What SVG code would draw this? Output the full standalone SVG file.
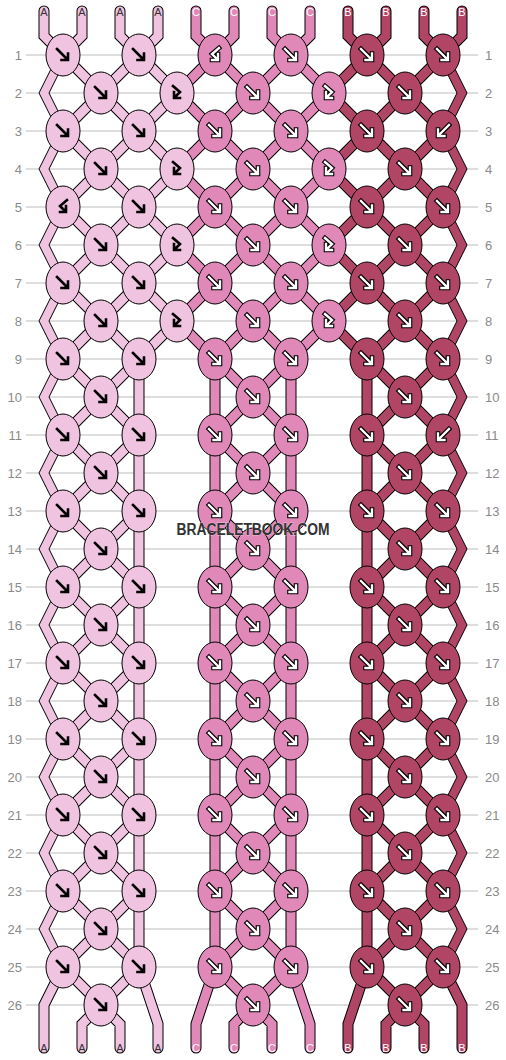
<svg xmlns="http://www.w3.org/2000/svg" xmlns:xlink="http://www.w3.org/1999/xlink" width="506" height="1060" viewBox="0 0 506 1060">
<style>
.gl{fill:none;stroke:#bdbdbd;stroke-width:1}
.o{fill:none;stroke:#000;stroke-width:11;stroke-linecap:round;stroke-linejoin:miter}
.sA,.sC,.sB{fill:none;stroke-width:9;stroke-linecap:round;stroke-linejoin:miter}
.sA{stroke:#f0c3e0}.sC{stroke:#e088b8}.sB{stroke:#b04566}
.A{fill:#f0c3e0;stroke:#000;stroke-width:1}
.C{fill:#e088b8;stroke:#000;stroke-width:1}
.B{fill:#b04566;stroke:#000;stroke-width:1}
.k{fill:none;stroke:#000;stroke-width:2.6;stroke-linecap:square;stroke-linejoin:miter}
.wo{fill:none;stroke:#000;stroke-width:4.6;stroke-linecap:square;stroke-linejoin:miter}
.w{fill:none;stroke:#fff;stroke-width:2.4;stroke-linecap:square;stroke-linejoin:miter}
.rl{font-family:"Liberation Sans",Arial,sans-serif;font-size:13px;fill:#8a8a8a}
.sl{font-family:"Liberation Sans",Arial,sans-serif;font-size:11px;text-anchor:middle}
.la{fill:#333}.lw{fill:#fff}
.wm{font-family:"Liberation Sans",Arial,sans-serif;font-weight:bold;font-size:16px;fill:#333;text-anchor:middle}
</style>
<defs>
<path id="f" d="M-6,-6L4,4M5,-1.5V5H-1.5"/>
<path id="b" d="M6,-6L-4,4M-5,-1.5V5H1.5"/>
<path id="fb" d="M-4,-7L3,-1L-2,4M-3,-1V5H3"/>
<path id="bf" d="M4,-7L-3,-1L2,4M3,-1V5H-3"/>
<g id="fK"><use href="#f" class="k"/></g>
<g id="fbK"><use href="#fb" class="k"/></g>
<g id="bfK"><use href="#bf" class="k"/></g>
<g id="fW"><use href="#f" class="wo"/><use href="#f" class="w"/></g>
<g id="bW"><use href="#b" class="wo"/><use href="#b" class="w"/></g>
<g id="fbW"><use href="#fb" class="wo"/><use href="#fb" class="w"/></g>
<g id="bfW"><use href="#bf" class="wo"/><use href="#bf" class="w"/></g>
<path id="pA" d="M44,11V36L63,55M82,11V36L63,55M120,11V36L139,55M158,11V36L139,55M63,55L139,131L63,207L139,283L63,359L139,435L63,511L139,587L63,663L139,739L63,815L139,891L63,967M139,55L63,131L139,207L63,283L139,359L63,435L139,511L63,587L139,663L63,739L139,815L63,891L139,967M139,55L177,93L139,131L177,169L139,207L177,245L139,283L177,321L139,359M139,359V967M63,967L44,1005V1048M63,967L101,1005L82,1024V1048M139,967L101,1005L120,1024V1048M139,967L158,1024V1048"/>
<path id="pC" d="M196,11V36L215,55M234,11V36L215,55M272,11V36L291,55M310,11V36L291,55M215,55L291,131L215,207L291,283L215,359L291,435L215,511L291,587L215,663L291,739L215,815L291,891L215,967M291,55L215,131L291,207L215,283L291,359L215,435L291,511L215,587L291,663L215,739L291,815L215,891L291,967M215,55L177,93L215,131L177,169L215,207L177,245L215,283L177,321L215,359M291,55L329,93L291,131L329,169L291,207L329,245L291,283L329,321L291,359M215,359V967M291,359V967M215,967L196,1024V1048M215,967L253,1005L234,1024V1048M291,967L253,1005L272,1024V1048M291,967L310,1024V1048"/>
<path id="pB" d="M348,11V36L367,55M386,11V36L367,55M424,11V36L443,55M462,11V36L443,55M367,55L443,131L367,207L443,283L367,359L443,435L367,511L443,587L367,663L443,739L367,815L443,891L367,967M443,55L367,131L443,207L367,283L443,359L367,435L443,511L367,587L443,663L367,739L443,815L367,891L443,967M367,55L329,93L367,131L329,169L367,207L329,245L367,283L329,321L367,359M367,359V967M367,967L348,1024V1048M367,967L405,1005L386,1024V1048M443,967L405,1005L424,1024V1048M443,967L462,1005V1048"/>
</defs>
<rect width="506" height="1060" fill="#fff"/>
<g id="grid">
<path class="gl" d="M26,55H478M26,93H478M26,131H478M26,169H478M26,207H478M26,245H478M26,283H478M26,321H478M26,359H478M26,397H478M26,435H478M26,473H478M26,511H478M26,549H478M26,587H478M26,625H478M26,663H478M26,701H478M26,739H478M26,777H478M26,815H478M26,853H478M26,891H478M26,929H478M26,967H478M26,1005H478"/>
</g>
<g id="row-labels" class="rl">
<g text-anchor="end">
<text x="22" y="59.5">1</text><text x="22" y="97.5">2</text><text x="22" y="135.5">3</text><text x="22" y="173.5">4</text><text x="22" y="211.5">5</text><text x="22" y="249.5">6</text><text x="22" y="287.5">7</text><text x="22" y="325.5">8</text><text x="22" y="363.5">9</text><text x="22" y="401.5">10</text><text x="22" y="439.5">11</text><text x="22" y="477.5">12</text><text x="22" y="515.5">13</text><text x="22" y="553.5">14</text><text x="22" y="591.5">15</text><text x="22" y="629.5">16</text><text x="22" y="667.5">17</text><text x="22" y="705.5">18</text><text x="22" y="743.5">19</text><text x="22" y="781.5">20</text><text x="22" y="819.5">21</text><text x="22" y="857.5">22</text><text x="22" y="895.5">23</text><text x="22" y="933.5">24</text><text x="22" y="971.5">25</text><text x="22" y="1009.5">26</text>
</g>
<g text-anchor="start">
<text x="485" y="59.5">1</text><text x="485" y="97.5">2</text><text x="485" y="135.5">3</text><text x="485" y="173.5">4</text><text x="485" y="211.5">5</text><text x="485" y="249.5">6</text><text x="485" y="287.5">7</text><text x="485" y="325.5">8</text><text x="485" y="363.5">9</text><text x="485" y="401.5">10</text><text x="485" y="439.5">11</text><text x="485" y="477.5">12</text><text x="485" y="515.5">13</text><text x="485" y="553.5">14</text><text x="485" y="591.5">15</text><text x="485" y="629.5">16</text><text x="485" y="667.5">17</text><text x="485" y="705.5">18</text><text x="485" y="743.5">19</text><text x="485" y="781.5">20</text><text x="485" y="819.5">21</text><text x="485" y="857.5">22</text><text x="485" y="895.5">23</text><text x="485" y="933.5">24</text><text x="485" y="971.5">25</text><text x="485" y="1009.5">26</text>
</g>
</g>
<g id="connectors">
<use href="#pA" class="o"/><use href="#pC" class="o"/><use href="#pB" class="o"/>
<use href="#pA" class="sA"/><use href="#pC" class="sC"/><use href="#pB" class="sB"/>
<polygon class="A" points="58,55 39,93 58,131 39,169 58,207 39,245 58,283 39,321 58,359 39,397 58,435 39,473 58,511 39,549 58,587 39,625 58,663 39,701 58,739 39,777 58,815 39,853 58,891 39,929 58,967 68,967 49,929 68,891 49,853 68,815 49,777 68,739 49,701 68,663 49,625 68,587 49,549 68,511 49,473 68,435 49,397 68,359 49,321 68,283 49,245 68,207 49,169 68,131 49,93 68,55"/>
<polygon class="B" points="448,55 467,93 448,131 467,169 448,207 467,245 448,283 467,321 448,359 467,397 448,435 467,473 448,511 467,549 448,587 467,625 448,663 467,701 448,739 467,777 448,815 467,853 448,891 467,929 448,967 438,967 457,929 438,891 457,853 438,815 457,777 438,739 457,701 438,663 457,625 438,587 457,549 438,511 457,473 438,435 457,397 438,359 457,321 438,283 457,245 438,207 457,169 438,131 457,93 438,55"/>
</g>
<g id="strand-labels" class="sl">
<text class="la" x="44" y="16">A</text><text class="la" x="82" y="16">A</text><text class="la" x="120" y="16">A</text><text class="la" x="158" y="16">A</text>
<text class="lw" x="196" y="16">C</text><text class="lw" x="234" y="16">C</text><text class="lw" x="272" y="16">C</text><text class="lw" x="310" y="16">C</text>
<text class="lw" x="348" y="16">B</text><text class="lw" x="386" y="16">B</text><text class="lw" x="424" y="16">B</text><text class="lw" x="462" y="16">B</text>
<text class="la" x="44" y="1052">A</text><text class="la" x="82" y="1052">A</text><text class="la" x="120" y="1052">A</text><text class="la" x="158" y="1052">A</text>
<text class="lw" x="196" y="1052">C</text><text class="lw" x="234" y="1052">C</text><text class="lw" x="272" y="1052">C</text><text class="lw" x="310" y="1052">C</text>
<text class="lw" x="348" y="1052">B</text><text class="lw" x="386" y="1052">B</text><text class="lw" x="424" y="1052">B</text><text class="lw" x="462" y="1052">B</text>
</g>
<g id="knots">
<g id="k1-1" transform="translate(63,55)"><ellipse class="A" rx="17" ry="21"/><use href="#fK"/></g>
<g id="k1-2" transform="translate(139,55)"><ellipse class="A" rx="17" ry="21"/><use href="#fK"/></g>
<g id="k1-3" transform="translate(215,55)"><ellipse class="C" rx="17" ry="21"/><use href="#bfW"/></g>
<g id="k1-4" transform="translate(291,55)"><ellipse class="C" rx="17" ry="21"/><use href="#fW"/></g>
<g id="k1-5" transform="translate(367,55)"><ellipse class="B" rx="17" ry="21"/><use href="#fW"/></g>
<g id="k1-6" transform="translate(443,55)"><ellipse class="B" rx="17" ry="21"/><use href="#fW"/></g>
<g id="k2-1" transform="translate(101,93)"><ellipse class="A" rx="17" ry="21"/><use href="#fK"/></g>
<g id="k2-2" transform="translate(177,93)"><ellipse class="A" rx="17" ry="21"/><use href="#fbK"/></g>
<g id="k2-3" transform="translate(253,93)"><ellipse class="C" rx="17" ry="21"/><use href="#fW"/></g>
<g id="k2-4" transform="translate(329,93)"><ellipse class="C" rx="17" ry="21"/><use href="#fbW"/></g>
<g id="k2-5" transform="translate(405,93)"><ellipse class="B" rx="17" ry="21"/><use href="#fW"/></g>
<g id="k3-1" transform="translate(63,131)"><ellipse class="A" rx="17" ry="21"/><use href="#fK"/></g>
<g id="k3-2" transform="translate(139,131)"><ellipse class="A" rx="17" ry="21"/><use href="#fK"/></g>
<g id="k3-3" transform="translate(215,131)"><ellipse class="C" rx="17" ry="21"/><use href="#fW"/></g>
<g id="k3-4" transform="translate(291,131)"><ellipse class="C" rx="17" ry="21"/><use href="#fW"/></g>
<g id="k3-5" transform="translate(367,131)"><ellipse class="B" rx="17" ry="21"/><use href="#fW"/></g>
<g id="k3-6" transform="translate(443,131)"><ellipse class="B" rx="17" ry="21"/><use href="#bW"/></g>
<g id="k4-1" transform="translate(101,169)"><ellipse class="A" rx="17" ry="21"/><use href="#fK"/></g>
<g id="k4-2" transform="translate(177,169)"><ellipse class="A" rx="17" ry="21"/><use href="#fbK"/></g>
<g id="k4-3" transform="translate(253,169)"><ellipse class="C" rx="17" ry="21"/><use href="#fW"/></g>
<g id="k4-4" transform="translate(329,169)"><ellipse class="C" rx="17" ry="21"/><use href="#fbW"/></g>
<g id="k4-5" transform="translate(405,169)"><ellipse class="B" rx="17" ry="21"/><use href="#fW"/></g>
<g id="k5-1" transform="translate(63,207)"><ellipse class="A" rx="17" ry="21"/><use href="#bfK"/></g>
<g id="k5-2" transform="translate(139,207)"><ellipse class="A" rx="17" ry="21"/><use href="#fK"/></g>
<g id="k5-3" transform="translate(215,207)"><ellipse class="C" rx="17" ry="21"/><use href="#fW"/></g>
<g id="k5-4" transform="translate(291,207)"><ellipse class="C" rx="17" ry="21"/><use href="#fW"/></g>
<g id="k5-5" transform="translate(367,207)"><ellipse class="B" rx="17" ry="21"/><use href="#fW"/></g>
<g id="k5-6" transform="translate(443,207)"><ellipse class="B" rx="17" ry="21"/><use href="#fW"/></g>
<g id="k6-1" transform="translate(101,245)"><ellipse class="A" rx="17" ry="21"/><use href="#fK"/></g>
<g id="k6-2" transform="translate(177,245)"><ellipse class="A" rx="17" ry="21"/><use href="#fbK"/></g>
<g id="k6-3" transform="translate(253,245)"><ellipse class="C" rx="17" ry="21"/><use href="#fW"/></g>
<g id="k6-4" transform="translate(329,245)"><ellipse class="C" rx="17" ry="21"/><use href="#fbW"/></g>
<g id="k6-5" transform="translate(405,245)"><ellipse class="B" rx="17" ry="21"/><use href="#fW"/></g>
<g id="k7-1" transform="translate(63,283)"><ellipse class="A" rx="17" ry="21"/><use href="#fK"/></g>
<g id="k7-2" transform="translate(139,283)"><ellipse class="A" rx="17" ry="21"/><use href="#fK"/></g>
<g id="k7-3" transform="translate(215,283)"><ellipse class="C" rx="17" ry="21"/><use href="#fW"/></g>
<g id="k7-4" transform="translate(291,283)"><ellipse class="C" rx="17" ry="21"/><use href="#fW"/></g>
<g id="k7-5" transform="translate(367,283)"><ellipse class="B" rx="17" ry="21"/><use href="#fW"/></g>
<g id="k7-6" transform="translate(443,283)"><ellipse class="B" rx="17" ry="21"/><use href="#fW"/></g>
<g id="k8-1" transform="translate(101,321)"><ellipse class="A" rx="17" ry="21"/><use href="#fK"/></g>
<g id="k8-2" transform="translate(177,321)"><ellipse class="A" rx="17" ry="21"/><use href="#fbK"/></g>
<g id="k8-3" transform="translate(253,321)"><ellipse class="C" rx="17" ry="21"/><use href="#fW"/></g>
<g id="k8-4" transform="translate(329,321)"><ellipse class="C" rx="17" ry="21"/><use href="#fbW"/></g>
<g id="k8-5" transform="translate(405,321)"><ellipse class="B" rx="17" ry="21"/><use href="#fW"/></g>
<g id="k9-1" transform="translate(63,359)"><ellipse class="A" rx="17" ry="21"/><use href="#fK"/></g>
<g id="k9-2" transform="translate(139,359)"><ellipse class="A" rx="17" ry="21"/><use href="#fK"/></g>
<g id="k9-3" transform="translate(215,359)"><ellipse class="C" rx="17" ry="21"/><use href="#fW"/></g>
<g id="k9-4" transform="translate(291,359)"><ellipse class="C" rx="17" ry="21"/><use href="#fW"/></g>
<g id="k9-5" transform="translate(367,359)"><ellipse class="B" rx="17" ry="21"/><use href="#fW"/></g>
<g id="k9-6" transform="translate(443,359)"><ellipse class="B" rx="17" ry="21"/><use href="#fW"/></g>
<g id="k10-1" transform="translate(101,397)"><ellipse class="A" rx="17" ry="21"/><use href="#fK"/></g>
<g id="k10-2" transform="translate(253,397)"><ellipse class="C" rx="17" ry="21"/><use href="#fW"/></g>
<g id="k10-3" transform="translate(405,397)"><ellipse class="B" rx="17" ry="21"/><use href="#fW"/></g>
<g id="k11-1" transform="translate(63,435)"><ellipse class="A" rx="17" ry="21"/><use href="#fK"/></g>
<g id="k11-2" transform="translate(139,435)"><ellipse class="A" rx="17" ry="21"/><use href="#fK"/></g>
<g id="k11-3" transform="translate(215,435)"><ellipse class="C" rx="17" ry="21"/><use href="#fW"/></g>
<g id="k11-4" transform="translate(291,435)"><ellipse class="C" rx="17" ry="21"/><use href="#fW"/></g>
<g id="k11-5" transform="translate(367,435)"><ellipse class="B" rx="17" ry="21"/><use href="#fW"/></g>
<g id="k11-6" transform="translate(443,435)"><ellipse class="B" rx="17" ry="21"/><use href="#bW"/></g>
<g id="k12-1" transform="translate(101,473)"><ellipse class="A" rx="17" ry="21"/><use href="#fK"/></g>
<g id="k12-2" transform="translate(253,473)"><ellipse class="C" rx="17" ry="21"/><use href="#fW"/></g>
<g id="k12-3" transform="translate(405,473)"><ellipse class="B" rx="17" ry="21"/><use href="#fW"/></g>
<g id="k13-1" transform="translate(63,511)"><ellipse class="A" rx="17" ry="21"/><use href="#fK"/></g>
<g id="k13-2" transform="translate(139,511)"><ellipse class="A" rx="17" ry="21"/><use href="#fK"/></g>
<g id="k13-3" transform="translate(215,511)"><ellipse class="C" rx="17" ry="21"/><use href="#fW"/></g>
<g id="k13-4" transform="translate(291,511)"><ellipse class="C" rx="17" ry="21"/><use href="#fW"/></g>
<g id="k13-5" transform="translate(367,511)"><ellipse class="B" rx="17" ry="21"/><use href="#fW"/></g>
<g id="k13-6" transform="translate(443,511)"><ellipse class="B" rx="17" ry="21"/><use href="#fW"/></g>
<g id="k14-1" transform="translate(101,549)"><ellipse class="A" rx="17" ry="21"/><use href="#fK"/></g>
<g id="k14-2" transform="translate(253,549)"><ellipse class="C" rx="17" ry="21"/><use href="#fW"/></g>
<g id="k14-3" transform="translate(405,549)"><ellipse class="B" rx="17" ry="21"/><use href="#fW"/></g>
<g id="k15-1" transform="translate(63,587)"><ellipse class="A" rx="17" ry="21"/><use href="#fK"/></g>
<g id="k15-2" transform="translate(139,587)"><ellipse class="A" rx="17" ry="21"/><use href="#fK"/></g>
<g id="k15-3" transform="translate(215,587)"><ellipse class="C" rx="17" ry="21"/><use href="#fW"/></g>
<g id="k15-4" transform="translate(291,587)"><ellipse class="C" rx="17" ry="21"/><use href="#fW"/></g>
<g id="k15-5" transform="translate(367,587)"><ellipse class="B" rx="17" ry="21"/><use href="#fW"/></g>
<g id="k15-6" transform="translate(443,587)"><ellipse class="B" rx="17" ry="21"/><use href="#fW"/></g>
<g id="k16-1" transform="translate(101,625)"><ellipse class="A" rx="17" ry="21"/><use href="#fK"/></g>
<g id="k16-2" transform="translate(253,625)"><ellipse class="C" rx="17" ry="21"/><use href="#fW"/></g>
<g id="k16-3" transform="translate(405,625)"><ellipse class="B" rx="17" ry="21"/><use href="#fW"/></g>
<g id="k17-1" transform="translate(63,663)"><ellipse class="A" rx="17" ry="21"/><use href="#fK"/></g>
<g id="k17-2" transform="translate(139,663)"><ellipse class="A" rx="17" ry="21"/><use href="#fK"/></g>
<g id="k17-3" transform="translate(215,663)"><ellipse class="C" rx="17" ry="21"/><use href="#fW"/></g>
<g id="k17-4" transform="translate(291,663)"><ellipse class="C" rx="17" ry="21"/><use href="#fW"/></g>
<g id="k17-5" transform="translate(367,663)"><ellipse class="B" rx="17" ry="21"/><use href="#fW"/></g>
<g id="k17-6" transform="translate(443,663)"><ellipse class="B" rx="17" ry="21"/><use href="#fW"/></g>
<g id="k18-1" transform="translate(101,701)"><ellipse class="A" rx="17" ry="21"/><use href="#fK"/></g>
<g id="k18-2" transform="translate(253,701)"><ellipse class="C" rx="17" ry="21"/><use href="#fW"/></g>
<g id="k18-3" transform="translate(405,701)"><ellipse class="B" rx="17" ry="21"/><use href="#fW"/></g>
<g id="k19-1" transform="translate(63,739)"><ellipse class="A" rx="17" ry="21"/><use href="#fK"/></g>
<g id="k19-2" transform="translate(139,739)"><ellipse class="A" rx="17" ry="21"/><use href="#fK"/></g>
<g id="k19-3" transform="translate(215,739)"><ellipse class="C" rx="17" ry="21"/><use href="#fW"/></g>
<g id="k19-4" transform="translate(291,739)"><ellipse class="C" rx="17" ry="21"/><use href="#fW"/></g>
<g id="k19-5" transform="translate(367,739)"><ellipse class="B" rx="17" ry="21"/><use href="#fW"/></g>
<g id="k19-6" transform="translate(443,739)"><ellipse class="B" rx="17" ry="21"/><use href="#fW"/></g>
<g id="k20-1" transform="translate(101,777)"><ellipse class="A" rx="17" ry="21"/><use href="#fK"/></g>
<g id="k20-2" transform="translate(253,777)"><ellipse class="C" rx="17" ry="21"/><use href="#fW"/></g>
<g id="k20-3" transform="translate(405,777)"><ellipse class="B" rx="17" ry="21"/><use href="#fW"/></g>
<g id="k21-1" transform="translate(63,815)"><ellipse class="A" rx="17" ry="21"/><use href="#fK"/></g>
<g id="k21-2" transform="translate(139,815)"><ellipse class="A" rx="17" ry="21"/><use href="#fK"/></g>
<g id="k21-3" transform="translate(215,815)"><ellipse class="C" rx="17" ry="21"/><use href="#fW"/></g>
<g id="k21-4" transform="translate(291,815)"><ellipse class="C" rx="17" ry="21"/><use href="#fW"/></g>
<g id="k21-5" transform="translate(367,815)"><ellipse class="B" rx="17" ry="21"/><use href="#fW"/></g>
<g id="k21-6" transform="translate(443,815)"><ellipse class="B" rx="17" ry="21"/><use href="#fW"/></g>
<g id="k22-1" transform="translate(101,853)"><ellipse class="A" rx="17" ry="21"/><use href="#fK"/></g>
<g id="k22-2" transform="translate(253,853)"><ellipse class="C" rx="17" ry="21"/><use href="#fW"/></g>
<g id="k22-3" transform="translate(405,853)"><ellipse class="B" rx="17" ry="21"/><use href="#fW"/></g>
<g id="k23-1" transform="translate(63,891)"><ellipse class="A" rx="17" ry="21"/><use href="#fK"/></g>
<g id="k23-2" transform="translate(139,891)"><ellipse class="A" rx="17" ry="21"/><use href="#fK"/></g>
<g id="k23-3" transform="translate(215,891)"><ellipse class="C" rx="17" ry="21"/><use href="#fW"/></g>
<g id="k23-4" transform="translate(291,891)"><ellipse class="C" rx="17" ry="21"/><use href="#fW"/></g>
<g id="k23-5" transform="translate(367,891)"><ellipse class="B" rx="17" ry="21"/><use href="#fW"/></g>
<g id="k23-6" transform="translate(443,891)"><ellipse class="B" rx="17" ry="21"/><use href="#fW"/></g>
<g id="k24-1" transform="translate(101,929)"><ellipse class="A" rx="17" ry="21"/><use href="#fK"/></g>
<g id="k24-2" transform="translate(253,929)"><ellipse class="C" rx="17" ry="21"/><use href="#fW"/></g>
<g id="k24-3" transform="translate(405,929)"><ellipse class="B" rx="17" ry="21"/><use href="#fW"/></g>
<g id="k25-1" transform="translate(63,967)"><ellipse class="A" rx="17" ry="21"/><use href="#fK"/></g>
<g id="k25-2" transform="translate(139,967)"><ellipse class="A" rx="17" ry="21"/><use href="#fK"/></g>
<g id="k25-3" transform="translate(215,967)"><ellipse class="C" rx="17" ry="21"/><use href="#fW"/></g>
<g id="k25-4" transform="translate(291,967)"><ellipse class="C" rx="17" ry="21"/><use href="#fW"/></g>
<g id="k25-5" transform="translate(367,967)"><ellipse class="B" rx="17" ry="21"/><use href="#fW"/></g>
<g id="k25-6" transform="translate(443,967)"><ellipse class="B" rx="17" ry="21"/><use href="#fW"/></g>
<g id="k26-1" transform="translate(101,1005)"><ellipse class="A" rx="17" ry="21"/><use href="#fK"/></g>
<g id="k26-2" transform="translate(253,1005)"><ellipse class="C" rx="17" ry="21"/><use href="#fW"/></g>
<g id="k26-3" transform="translate(405,1005)"><ellipse class="B" rx="17" ry="21"/><use href="#fW"/></g>
</g>
<text class="wm" x="253" y="535" textLength="153" lengthAdjust="spacingAndGlyphs" stroke="#fff" stroke-width="1" stroke-opacity="0.5" paint-order="stroke">BRACELETBOOK.COM</text>
</svg>
